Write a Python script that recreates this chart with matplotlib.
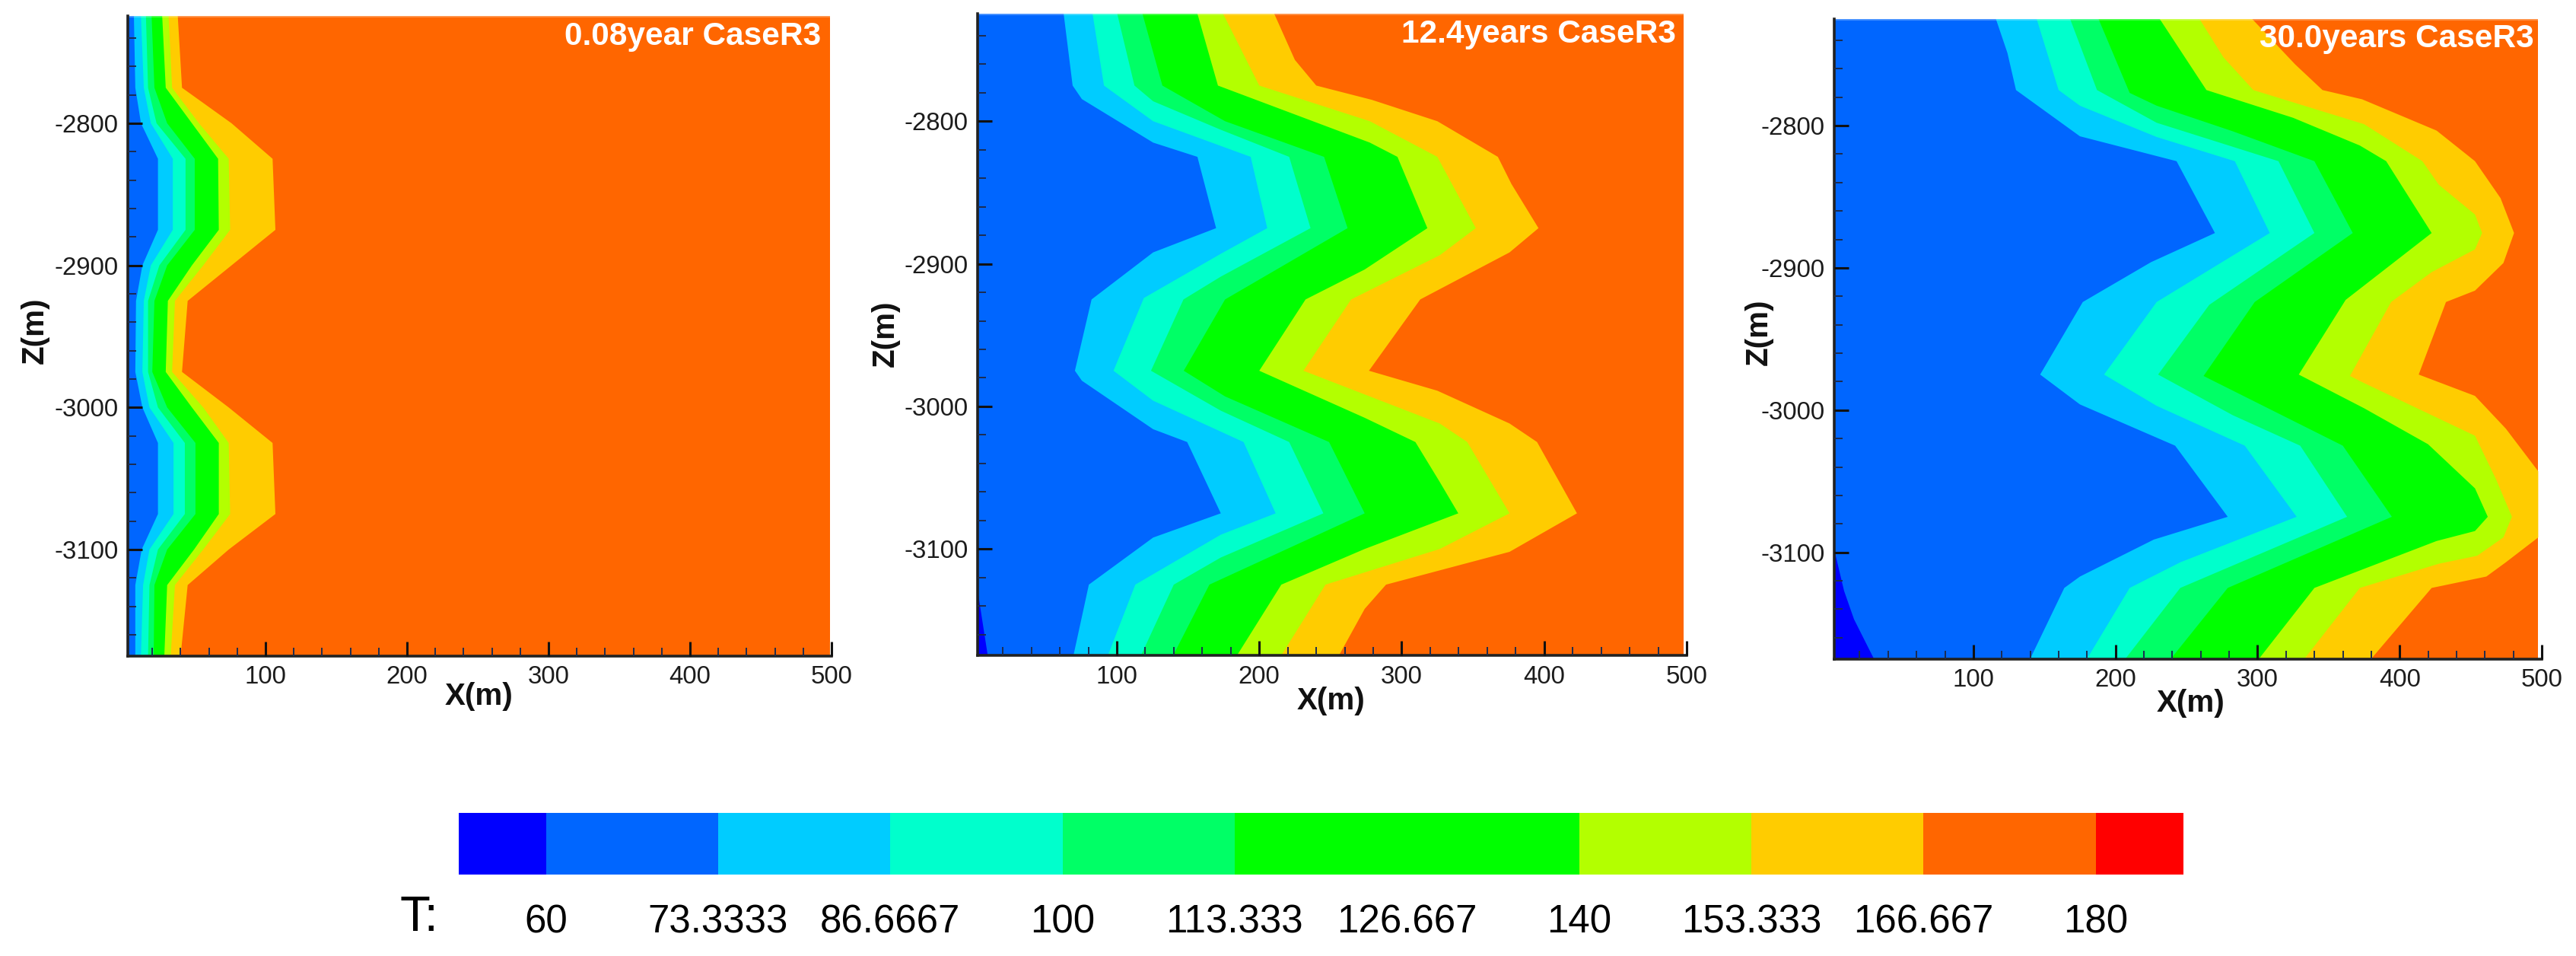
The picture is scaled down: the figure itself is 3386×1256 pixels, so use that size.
import numpy as np
import matplotlib
matplotlib.use("Agg")
import matplotlib.pyplot as plt
from matplotlib.ticker import MultipleLocator

plt.rcParams['font.family'] = ['Liberation Sans', 'DejaVu Sans']
plt.rcParams['axes.unicode_minus'] = False

# ---------- data ----------
LEVELS = [53.25, 60, 73.3333, 86.6667, 100, 113.333, 140, 153.333, 166.667, 180, 186.8]
BAND_COLORS = ['#0000FF', '#0066FF', '#00CCFF', '#00FFCC', '#00FF66', '#00FF00',
               '#B3FF00', '#FFCC00', '#FF6600', '#FF0000']
CB_TICKS = [60, 73.3333, 86.6667, 100, 113.333, 126.667, 140, 153.333, 166.667, 180]
CB_LABELS = ['60', '73.3333', '86.6667', '100', '113.333', '126.667', '140', '153.333', '166.667', '180']
X_TICKS = [100, 200, 300, 400, 500]
Z_TICKS = [-2800, -2900, -3000, -3100]
TITLES = ['0.08year CaseR3', '12.4years CaseR3', '30.0years CaseR3']

# Panel 1: isotherms, all on the same depth nodes
P1_Z = [-2724.5, -2775, -2800, -2825, -2875, -2900, -2925, -2975, -3000, -3025, -3075, -3100, -3125, -3175]
P1_B1 = [7, 8, 12, 24, 24, 13, 8.5, 8, 13, 24, 24, 12.5, 8, 8]
P1_B2 = [12, 14, 19, 34.5, 34.5, 19, 14, 13, 18, 35, 35, 18, 13.5, 12]
P1_B3 = [15.5, 17, 23, 43.5, 43.5, 25, 17, 17, 24, 43, 43, 24, 18, 17]
P1_B4 = [19.5, 21.5, 30.5, 50, 50, 30.5, 21.5, 20, 30.5, 50.5, 50.5, 30.5, 21.5, 21]
P1_B5 = [27, 29.5, 48, 66.5, 67, 48, 31, 29.5, 48, 67, 67, 49.5, 30.5, 28.5]
P1_B6 = [31.5, 34, 53, 74, 75, 56, 36, 34, 56, 74, 75, 56, 36, 33]
P1_B7 = [38, 41, 76, 105, 107, 76, 45, 41, 74, 105, 107, 74, 45, 40]

# Panel 2
P2_B0_X = [2.3, 2.3, 9.4]
P2_B0_Z = [-2724.6, -3129, -3174.6]
P2_B1_X = [62.7, 69, 75.5, 125.5, 156.6, 169.7, 125.5, 82.3, 70.6, 75.5, 125.5, 149.4, 173, 125.5, 80.4, 69.6]
P2_B1_Z = [-2724.6, -2775, -2784.5, -2815, -2825, -2875, -2892, -2925, -2975, -2982, -3016, -3025, -3075, -3092, -3125, -3174.6]
P2_B2_X = [83, 91, 125.5, 194, 205.6, 173, 119, 97.7, 125.5, 189, 211.5, 173, 113, 93.8]
P2_B2_Z = [-2724.6, -2775, -2800, -2825, -2875, -2893, -2924, -2975, -2996, -3025, -3075, -3090, -3125, -3174.6]
P2_B3_X = [100.3, 112.4, 125.5, 173, 221, 236, 173, 146.8, 124, 173, 221, 245, 173, 140, 117]
P2_B3_Z = [-2724.6, -2775, -2786, -2806, -2825, -2875, -2909, -2925, -2975, -3003, -3025, -3075, -3106, -3125, -3174.6]
P2_B4_X = [118, 132, 176, 245.5, 262, 176, 147, 176, 249, 274, 165, 139.6]
P2_B4_Z = [-2724.6, -2775, -2800, -2825, -2875, -2925, -2975, -2993, -3025, -3075, -3125, -3174.6]
P2_B5_X = [156.6, 171, 277.6, 297, 318, 274, 232.5, 200, 274, 309.6, 326.7, 339.7, 274, 215.5, 184.4]
P2_B5_Z = [-2724.6, -2775, -2815, -2825, -2875, -2904, -2925, -2975, -3008, -3025, -3053, -3075, -3100, -3125, -3174.6]
P2_B6_X = [174.6, 200, 277.6, 325, 352, 326.7, 264.5, 231, 326.7, 346, 375.7, 326.7, 246.5, 215.5]
P2_B6_Z = [-2724.6, -2775, -2800, -2825, -2875, -2894, -2925, -2975, -3012, -3025, -3075, -3100, -3125, -3174.6]
P2_B7_X = [210.5, 225, 240, 279, 325, 367.5, 377, 396, 375.7, 313, 277, 325, 375.7, 395, 423, 375.7, 289, 274, 256]
P2_B7_Z = [-2724.6, -2757, -2775, -2785, -2800, -2825, -2844, -2875, -2892, -2925, -2975, -2989, -3012, -3025, -3075, -3102, -3125, -3142, -3174.6]

# Panel 3
P3_B0_X = [2.1, 2.1, 9, 16, 30]
P3_B0_Z = [-2724.8, -3098, -3127, -3147, -3174.8]
P3_B1_X = [115.8, 124, 130, 175, 243, 270, 225, 177, 147, 175, 242, 279, 227, 175, 164, 140]
P3_B1_Z = [-2724.8, -2749, -2775, -2807.5, -2825, -2875.5, -2896, -2924, -2975, -2996, -3025, -3075, -3091, -3117, -3125, -3174.8]
P3_B2_X = [144.5, 160, 175, 229, 284, 308.6, 229, 192, 229, 291, 327.5, 245.6, 210, 180]
P3_B2_Z = [-2724.8, -2775, -2786, -2808, -2825, -2875.5, -2924, -2975, -2997, -3025, -3075, -3107, -3125, -3174.8]
P3_B3_X = [168, 187, 229, 314.7, 340, 266, 230, 282.6, 330, 363, 245.6, 207]
P3_B3_Z = [-2724.8, -2775, -2798, -2825, -2875.5, -2926, -2975, -3003.6, -3025, -3075, -3125, -3174.8]
P3_B4_X = [188, 210, 229, 282.6, 340, 367, 298, 262, 360, 394.5, 279, 239]
P3_B4_Z = [-2724.8, -2777, -2786, -2804, -2825, -2875.5, -2924, -2976, -3025, -3075, -3125, -3174.8]
P3_B5_X = [231, 264, 325, 372, 390.5, 422.5, 362, 329, 375, 420, 453, 462, 453, 426, 340, 301]
P3_B5_Z = [-2724.8, -2775, -2794.5, -2814, -2825, -2875.5, -2922.5, -2975, -2998.7, -3024, -3055, -3075, -3085, -3092, -3125, -3174.8]
P3_B6_X = [259, 276, 297, 375, 416, 427.5, 453, 458, 453, 422.5, 394, 365, 375, 453, 468, 479, 473, 454.5, 427.5, 372, 333]
P3_B6_Z = [-2724.8, -2752, -2775, -2799, -2825, -2841.5, -2862.5, -2875.5, -2887, -2903, -2924, -2976, -2981, -3018, -3049, -3075, -3089.5, -3102.4, -3108, -3125, -3174.8]
P3_B7_X = [296, 326.5, 345.7, 373.6, 426, 453, 471, 480.5, 473, 453, 432.6, 413.4, 453, 474.7, 497.5, 497.5, 474.7, 461, 422.5, 380]
P3_B7_Z = [-2724.8, -2757, -2775, -2781.5, -2803.5, -2825, -2851, -2875.5, -2896.6, -2916, -2924, -2975, -2990, -3013, -3043, -3089.5, -3107, -3117, -3125, -3174.8]

PANELS = [
    dict(box=(168, 21, 1093, 862), xlim=(2.7, 500), zlim=(-3175, -2724.5), xfill=498.8,
         bounds=[(P1_B7, P1_Z), (P1_B6, P1_Z), (P1_B5, P1_Z), (P1_B4, P1_Z), (P1_B3, P1_Z), (P1_B2, P1_Z), (P1_B1, P1_Z)]),
    dict(box=(1285, 18, 2217, 861), xlim=(2.3, 500), zlim=(-3174.6, -2724.6), xfill=498,
         bounds=[(P2_B7_X, P2_B7_Z), (P2_B6_X, P2_B6_Z), (P2_B5_X, P2_B5_Z), (P2_B4_X, P2_B4_Z),
                 (P2_B3_X, P2_B3_Z), (P2_B2_X, P2_B2_Z), (P2_B1_X, P2_B1_Z), (P2_B0_X, P2_B0_Z)]),
    dict(box=(2411, 24.5, 3341, 865.5), xlim=(2.1, 500), zlim=(-3174.8, -2724.8), xfill=497.5,
         bounds=[(P3_B7_X, P3_B7_Z), (P3_B6_X, P3_B6_Z), (P3_B5_X, P3_B5_Z), (P3_B4_X, P3_B4_Z),
                 (P3_B3_X, P3_B3_Z), (P3_B2_X, P3_B2_Z), (P3_B1_X, P3_B1_Z), (P3_B0_X, P3_B0_Z)]),
]
# colours to the left of each isotherm, from the hot side inwards
LEFT_COLORS = ['#FFCC00', '#B3FF00', '#00FF00', '#00FF66', '#00FFCC', '#00CCFF', '#0066FF', '#0000FF']

# ---------- layout, in pixels ----------
W, H = 3387, 1256
TITLE_POS = [(1079, 48), (2203, 45), (3331, 51)]
XLABEL_POS = [(630, 915), (1750, 921), (2880, 924)]
ZLABEL_POS = [(46, 434), (1164, 438), (2312, 436)]
INK = '#1c1c1c'

fig = plt.figure(figsize=(W / 100, H / 100), dpi=100, facecolor='white')


def add_axes_px(l, t, r, b):
    return fig.add_axes([l / W, 1 - b / H, (r - l) / W, (b - t) / H])


for i, p in enumerate(PANELS):
    ax = add_axes_px(*p['box'])
    ax.set_xlim(*p['xlim'])
    ax.set_ylim(*p['zlim'])
    xmin = p['xlim'][0]
    zb, zt = p['zlim']
    ax.fill([xmin, p['xfill'], p['xfill'], xmin], [zb, zb, zt, zt], color='#FF6600', lw=0)
    for (bx, bz), col in zip(p['bounds'], LEFT_COLORS):
        ax.fill(list(bx) + [xmin, xmin], list(bz) + [zb, zt], color=col, lw=0)
    ax.plot([xmin, p['xfill']], [zt, zt], color='white', alpha=0.3, lw=2, clip_on=True)

    ax.spines['top'].set_visible(False)
    ax.spines['right'].set_visible(False)
    for s in ('left', 'bottom'):
        ax.spines[s].set_linewidth(2.6)
        ax.spines[s].set_color('#222222')
    ax.set_xticks(X_TICKS)
    ax.set_yticks(Z_TICKS)
    ax.xaxis.set_minor_locator(MultipleLocator(20))
    ax.yaxis.set_minor_locator(MultipleLocator(20))
    ax.tick_params(which='major', direction='in', length=14, width=2.2, color='#111111',
                   labelsize=23.8, labelcolor=INK, pad=9)
    ax.tick_params(which='minor', direction='in', length=8, width=1.4, color='#1c2c50')
    ax.set_axisbelow(False)

    tx, ty = TITLE_POS[i]
    fig.text(tx / W, 1 - ty / H, TITLES[i], color='white', fontsize=30.5, fontweight='bold', ha='right', va='center')
    lx, ly = XLABEL_POS[i]
    fig.text(lx / W, 1 - ly / H, 'X(m)', color='#111111', fontsize=29, fontweight='bold', ha='center', va='center')
    zx, zy = ZLABEL_POS[i]
    fig.text(zx / W, 1 - zy / H, 'Z(m)', color='#111111', fontsize=29, fontweight='bold', ha='center', va='center',
             rotation=90)

# colour bar
cax = add_axes_px(603, 1068, 2870, 1149)
cax.set_xlim(LEVELS[0], LEVELS[-1])
cax.set_ylim(0, 1)
cax.barh([0.5] * len(BAND_COLORS), np.diff(LEVELS), left=LEVELS[:-1], height=1, color=BAND_COLORS, lw=0)
for s in cax.spines.values():
    s.set_visible(False)
cax.set_yticks([])
cax.set_xticks(CB_TICKS)
cax.set_xticklabels(CB_LABELS)
cax.tick_params(axis='x', length=0, labelsize=36.7, labelcolor='black', pad=28)
fig.text(551 / W, 1 - 1206 / H, 'T:', color='black', fontsize=47, ha='center', va='center')

fig.savefig('out.png', dpi=100, facecolor='white')
